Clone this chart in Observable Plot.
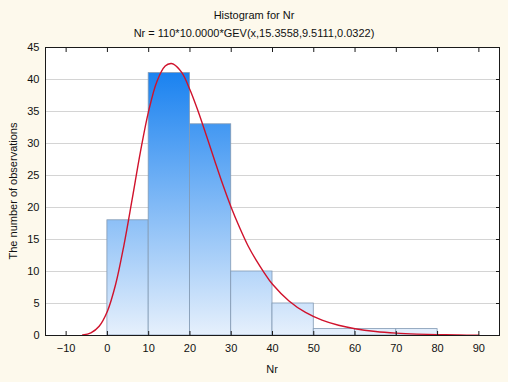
<!DOCTYPE html>
<html>
<head>
<meta charset="utf-8">
<script src="https://cdn.jsdelivr.net/npm/d3@7"></script>
<script src="https://cdn.jsdelivr.net/npm/@observablehq/plot@0.6"></script>
<style>
  html, body { margin: 0; padding: 0; background: #fdf9ec; }
  #wrap { position: relative; width: 508px; height: 382px; font-family: "Liberation Sans", Arial, sans-serif; color: #111; overflow: hidden; }
  .t { position: absolute; left: 0; width: 508px; text-align: center; font-size: 11px; line-height: 13px; }
  #ylab { position: absolute; left: 13px; top: 191px; font-size: 11px; white-space: nowrap; transform: translate(-50%, -50%) rotate(-90deg); }
  #xlab { position: absolute; left: 272px; top: 369px; font-size: 11px; transform: translate(-50%, -50%); }
  #chart { position: absolute; left: 0; top: 40px; }
</style>
</head>
<body>
<div id="wrap">
  <div class="t" style="top:9px">Histogram for Nr</div>
  <div class="t" style="top:27px">Nr = 110*10.0000*GEV(x,15.3558,9.5111,0.0322)</div>
  <div id="ylab">The number of observations</div>
  <div id="xlab">Nr</div>
  <div id="chart"></div>
</div>
<script>
// Histogram bins (lower edge, upper edge) and counts
const binLow  = [0, 10, 20, 30, 40, 50, 60, 70];
const binHigh = [10, 20, 30, 40, 50, 60, 70, 80];
const counts  = [18, 41, 33, 10, 5, 1, 1, 1];

// Fitted curve
const curveX = [-6, -4, -2, 0, 2, 4, 6, 8, 10, 12, 14, 15.4, 16, 18, 20, 22, 24, 26, 28, 30, 32, 34, 36, 38, 40, 44, 48, 52, 56, 60, 65, 70, 75, 80, 85, 90];
const curveY = [0.09, 0.42, 1.45, 3.8, 8.0, 14.1, 21.3, 28.7, 35.1, 39.7, 42.1, 42.5, 42.4, 41.1, 38.4, 35.0, 31.2, 27.3, 23.5, 20.0, 16.9, 14.1, 11.8, 9.8, 8.0, 5.4, 3.6, 2.4, 1.6, 1.05, 0.62, 0.37, 0.22, 0.13, 0.08, 0.05];

// Axis ticks
const xTicks = [-10, 0, 10, 20, 30, 40, 50, 60, 70, 80, 90];
const yTicks = [0, 5, 10, 15, 20, 25, 30, 35, 40, 45];
const gridY  = [5, 10, 15, 20, 25, 30, 35, 40];

const bins = binLow.map((d, i) => ({x1: d, x2: binHigh[i], count: counts[i]}));
const curve = curveX.map((x, i) => ({x, y: curveY[i]}));

const blank = () => "";
const plot = Plot.plot({
  width: 508,
  height: 342,
  marginTop: 7,
  marginBottom: 47,
  marginLeft: 45,
  marginRight: 9,
  style: {background: "transparent", fontFamily: "'Liberation Sans', Arial, sans-serif", fontSize: "11px", color: "#111"},
  x: {domain: [-15, 95]},
  y: {domain: [0, 45]},
  marks: [
    Plot.frame({fill: "white", stroke: "none"}),
    Plot.ruleY(gridY, {stroke: "#d4d4d4", strokeWidth: 1}),
    Plot.rect(bins, {x1: "x1", x2: "x2", y1: 0, y2: "count", fill: "url(#barGrad)", stroke: "#8299b3", strokeWidth: 0.8}),
    Plot.line(curve, {x: "x", y: "y", stroke: "#d0122c", strokeWidth: 1.4, curve: "catmull-rom"}),
    Plot.frame({stroke: "#1a1a1a", strokeWidth: 1}),
    Plot.axisX({ticks: xTicks, tickSize: 0, tickPadding: 9, label: null}),
    Plot.axisX({ticks: xTicks, tickSize: -4, tickFormat: blank, label: null, stroke: "#1a1a1a"}),
    Plot.axisX({anchor: "top", ticks: xTicks, tickSize: -4, tickFormat: blank, label: null, stroke: "#1a1a1a"}),
    Plot.axisY({ticks: yTicks, tickSize: 0, tickPadding: 6, label: null}),
    Plot.axisY({anchor: "right", ticks: yTicks, tickSize: -4, tickFormat: blank, label: null, stroke: "#1a1a1a"})
  ]
});

// Vertical gradient tied to the y scale (light at 0, strong blue at max count)
const ys = plot.scale("y");
const ns = "http://www.w3.org/2000/svg";
const defs = document.createElementNS(ns, "defs");
const grad = document.createElementNS(ns, "linearGradient");
grad.setAttribute("id", "barGrad");
grad.setAttribute("gradientUnits", "userSpaceOnUse");
grad.setAttribute("x1", "0");
grad.setAttribute("x2", "0");
grad.setAttribute("y1", ys.apply(0));
grad.setAttribute("y2", ys.apply(d3.max(counts)));
[["0", "#e6f0fc"], ["1", "#1a82f0"]].forEach(([o, c]) => {
  const s = document.createElementNS(ns, "stop");
  s.setAttribute("offset", o);
  s.setAttribute("stop-color", c);
  grad.appendChild(s);
});
defs.appendChild(grad);
plot.insertBefore(defs, plot.firstChild);

document.getElementById("chart").appendChild(plot);
</script>
</body>
</html>
